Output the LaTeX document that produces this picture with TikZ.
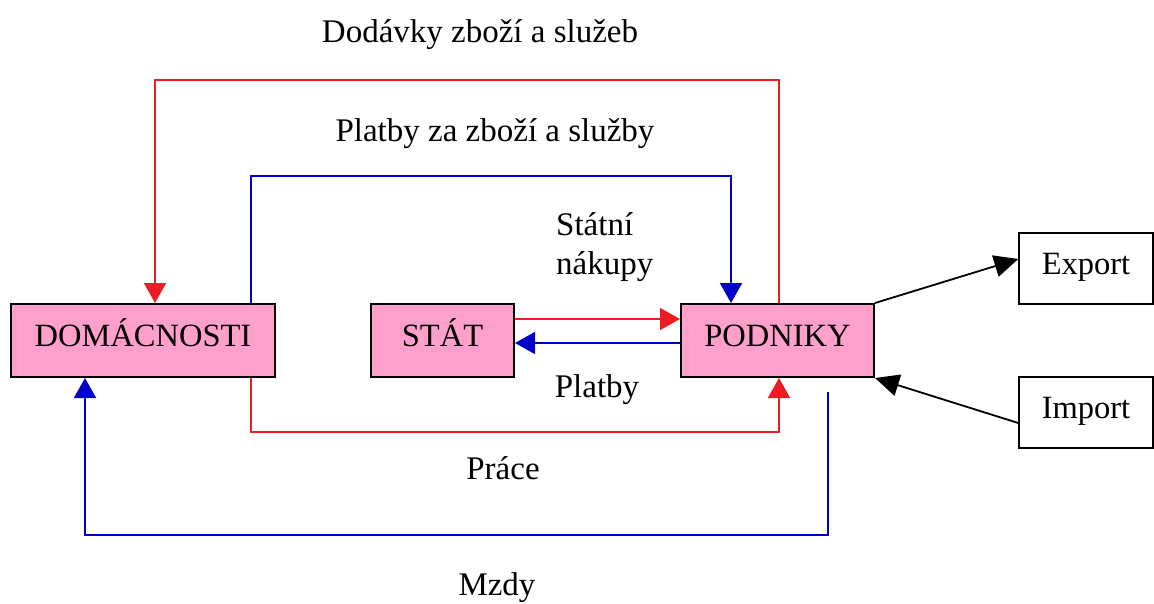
\documentclass[tikz,border=0pt]{standalone}
\usepackage{fontspec}
\setmainfont{Liberation Serif}
\usetikzlibrary{arrows.meta}
\definecolor{boxpink}{RGB}{255,159,203}
\definecolor{flowred}{RGB}{236,28,36}
\definecolor{flowblue}{RGB}{0,0,200}
\begin{document}
\begin{tikzpicture}[x=1pt,y=-1pt,
  box/.style={draw=black, line width=2pt, fill=boxpink, minimum height=73pt, inner sep=0pt, text height=22pt, text depth=10pt, font=\fontsize{32.5}{38}\selectfont},
  wbox/.style={box, fill=white, line width=1.5pt},
  tip/.style={-{Triangle[length=20pt,width=22pt]}},
  redf/.style={tip, draw=flowred, line width=1.6pt},
  bluef/.style={tip, draw=flowblue, line width=1.8pt},
  blackf/.style={-{Triangle[length=24pt,width=22pt]}, draw=black, line width=1.8pt},
  lbl/.style={font=\fontsize{33}{39}\selectfont, inner sep=0pt}
]
\useasboundingbox (0,0) rectangle (1154,603);
\node[box, minimum width=264pt] (dom) at (143,340.5) {DOMÁCNOSTI};
\node[box, minimum width=143pt] (stat) at (442.5,340.5) {STÁT};
\node[box, minimum width=193pt] (pod) at (777.5,340.5) {PODNIKY};
\node[wbox, minimum width=134pt, minimum height=71pt] (exp) at (1086,268.5) {Export};
\node[wbox, minimum width=134pt, minimum height=71pt] (imp) at (1086,412.5) {Import};

\coordinate (xa) at (155,0);
\coordinate (xb) at (251,0);
\coordinate (xc) at (731,0);
\coordinate (xd) at (779,0);
\coordinate (xe) at (85,0);
\coordinate (mstart) at (828,392);

% Dodavky (red, top)
\draw[redf] (pod.north -| xd) -- (779,80) -- (155,80) -- (dom.north -| xa);
% Platby za zbozi (blue)
\draw[bluef] (dom.north -| xb) -- (251,176) -- (731,176) -- (pod.north -| xc);
% Prace (red, bottom)
\draw[redf] (dom.south -| xb) -- (251,432) -- (779,432) -- (pod.south -| xd);
% Mzdy (blue, bottom)
\draw[bluef] (mstart) -- (828,535) -- (85,535) -- (dom.south -| xe);
% Stat <-> Podniky
\coordinate (ya) at (0,319);
\coordinate (yb) at (0,343);
\draw[redf] (stat.east |- ya) -- (pod.west |- ya);
\draw[bluef] (pod.west |- yb) -- (stat.east |- yb);
% Export / Import
\draw[blackf] (pod.north east) -- (exp.west |- 0,259);
\draw[blackf] (imp.west |- 0,423) -- (pod.south east);

\node[lbl] (l1) at (480,35) {Dodávky zboží a služeb};
\node[lbl] (l2) at (495,134) {Platby za zboží a služby};
\node[lbl, align=left, anchor=west] (l3) at (556,247) {Státní\\nákupy};
\node[lbl] (l4) at (597,390) {Platby};
\node[lbl] (l5) at (503,468) {Práce};
\node[lbl] (l6) at (497,588) {Mzdy};
\end{tikzpicture}
\end{document}
